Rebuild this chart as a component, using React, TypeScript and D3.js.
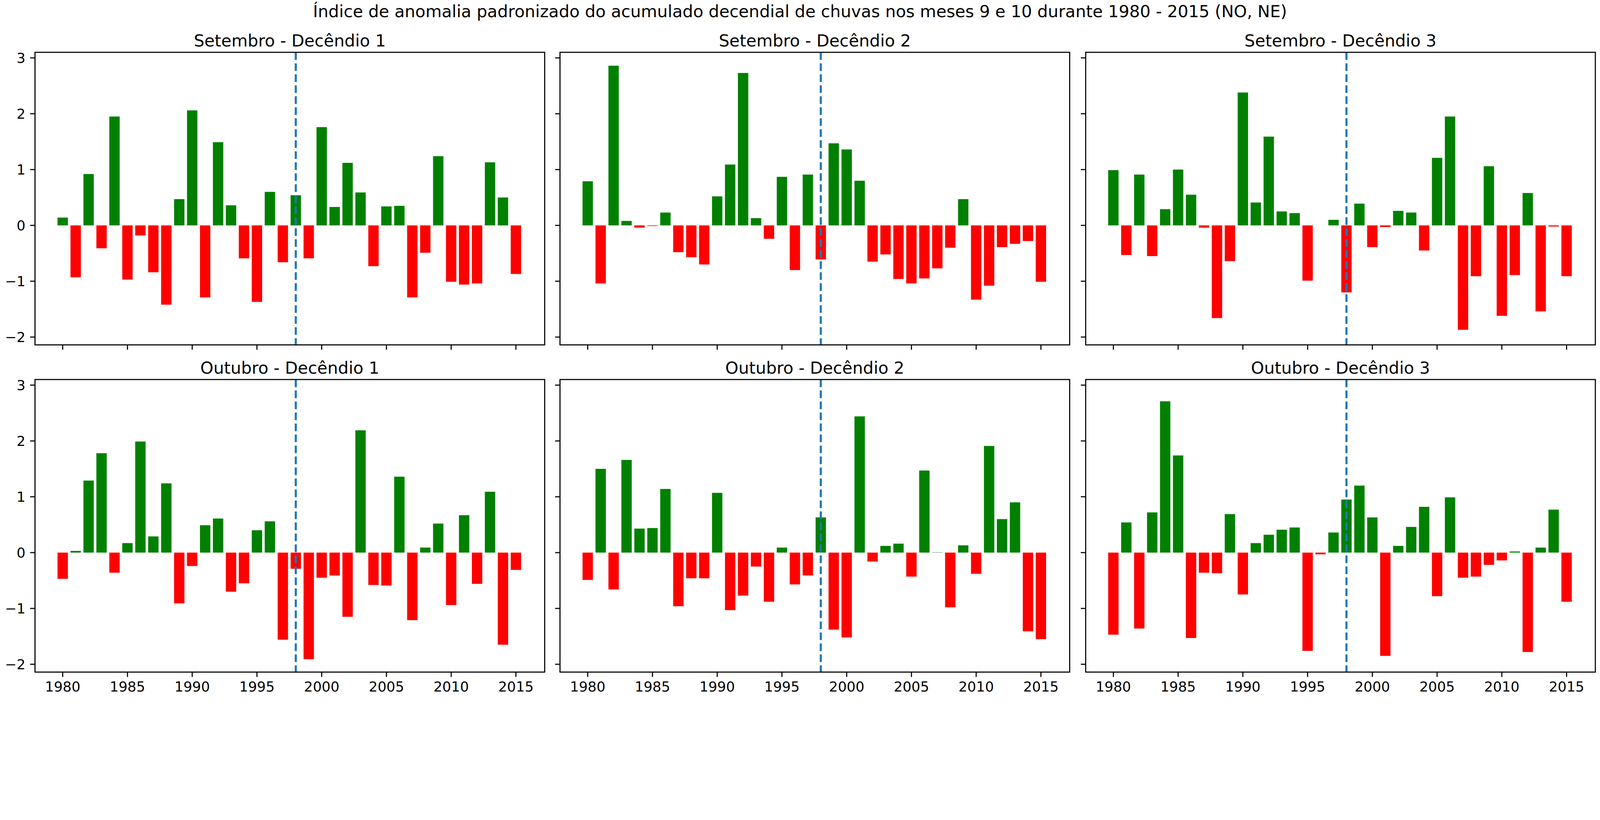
import * as React from "react";
import * as d3 from "d3";

const years: number[] = d3.range(1980, 2016);
const panelTitles: string[] = [
    "Setembro - Decêndio 1", "Setembro - Decêndio 2", "Setembro - Decêndio 3",
    "Outubro - Decêndio 1", "Outubro - Decêndio 2", "Outubro - Decêndio 3",
];
const setD1: number[] = [0.14, -0.93, 0.92, -0.41, 1.95, -0.97, -0.18, -0.84, -1.42, 0.47, 2.06, -1.29, 1.49, 0.36, -0.59, -1.37, 0.60, -0.66,
    0.54, -0.59, 1.76, 0.33, 1.12, 0.59, -0.73, 0.34, 0.35, -1.29, -0.49, 1.24, -1.01, -1.06, -1.04, 1.13, 0.50, -0.87];
const setD2: number[] = [0.79, -1.04, 2.86, 0.08, -0.04, -0.01, 0.23, -0.48, -0.57, -0.70, 0.52, 1.09, 2.73, 0.13, -0.24, 0.87, -0.80, 0.91,
    -0.61, 1.47, 1.36, 0.80, -0.65, -0.52, -0.96, -1.04, -0.95, -0.77, -0.40, 0.47, -1.33, -1.08, -0.39, -0.33, -0.28, -1.01];
const setD3: number[] = [0.99, -0.53, 0.91, -0.55, 0.29, 1.00, 0.55, -0.04, -1.66, -0.64, 2.38, 0.41, 1.59, 0.25, 0.22, -0.99, 0.0, 0.10,
    -1.20, 0.39, -0.39, -0.03, 0.26, 0.23, -0.45, 1.21, 1.95, -1.87, -0.91, 1.06, -1.62, -0.89, 0.58, -1.54, -0.02, -0.91];
const outD1: number[] = [-0.47, 0.03, 1.29, 1.78, -0.36, 0.17, 1.99, 0.29, 1.24, -0.91, -0.24, 0.49, 0.61, -0.70, -0.55, 0.40, 0.56, -1.56,
    -0.29, -1.91, -0.45, -0.41, -1.15, 2.19, -0.58, -0.59, 1.36, -1.21, 0.09, 0.52, -0.94, 0.67, -0.56, 1.09, -1.65, -0.31];
const outD2: number[] = [-0.49, 1.50, -0.66, 1.66, 0.43, 0.44, 1.14, -0.96, -0.46, -0.46, 1.07, -1.03, -0.77, -0.25, -0.88, 0.09, -0.57, -0.41,
    0.63, -1.38, -1.52, 2.44, -0.16, 0.12, 0.16, -0.43, 1.47, 0.005, -0.98, 0.13, -0.38, 1.91, 0.60, 0.90, -1.41, -1.55];
const outD3: number[] = [-1.47, 0.54, -1.36, 0.72, 2.71, 1.74, -1.53, -0.36, -0.37, 0.69, -0.75, 0.17, 0.32, 0.41, 0.45, -1.76, -0.03, 0.36,
    0.95, 1.20, 0.63, -1.85, 0.12, 0.46, 0.82, -0.78, 0.99, -0.45, -0.43, -0.22, -0.14, 0.02, -1.78, 0.09, 0.77, -0.88];
const series: number[][] = [setD1, setD2, setD3, outD1, outD2, outD3];
const xTicks: number[] = [1980, 1985, 1990, 1995, 2000, 2005, 2010, 2015];
const yTicks: number[] = [-2, -1, 0, 1, 2, 3];
const breakYear: number = 1998;

const font: string = "DejaVu Sans";
const colLeft: number[] = [105, 1680, 3257];
const panelW: number = 1529;
const rowTop: number[] = [157, 1139];
const panelH: number = 878;

const Panel = ({ idx }: { idx: number }): JSX.Element => {
    const col: number = idx % 3;
    const row: number = Math.floor(idx / 3);
    const x0: number = colLeft[col];
    const y0: number = rowTop[row];
    const x = d3.scaleLinear().domain([1977.86, 2017.22]).range([0, panelW]);
    const y = d3.scaleLinear().domain([-2.14, 3.1]).range([panelH, 0]);
    const bw: number = x(0.8) - x(0);
    const tick: number = 14.6;
    return <g transform={`translate(${x0},${y0})`}>
        {series[idx].map((v: number, i: number) => (
            <rect key={i} x={x(years[i]) - bw / 2} width={bw}
                y={y(Math.max(v, 0))} height={Math.abs(y(v) - y(0))}
                fill={v >= 0 ? "green" : "red"} />
        ))}
        <line x1={x(breakYear)} x2={x(breakYear)} y1={0} y2={panelH}
            stroke="#1f77b4" strokeWidth={6.25} strokeDasharray="23,10" />
        <rect x={0} y={0} width={panelW} height={panelH} fill="none" stroke="black" strokeWidth={3.3} />
        {xTicks.map((t: number) => (
            <g key={t}>
                <line x1={x(t)} x2={x(t)} y1={panelH} y2={panelH + tick} stroke="black" strokeWidth={3.3} />
                {row === 1 && <text x={x(t)} y={panelH + tick + 44} textAnchor="middle"
                    fontFamily={font} fontSize={41.7}>{t}</text>}
            </g>
        ))}
        {yTicks.map((t: number) => (
            <g key={t}>
                <line x1={-tick} x2={0} y1={y(t)} y2={y(t)} stroke="black" strokeWidth={3.3} />
                {col === 0 && <text x={-tick - 14} y={y(t)} dy="0.35em" textAnchor="end"
                    fontFamily={font} fontSize={41.7}>{t < 0 ? `\u2212${-t}` : t}</text>}
            </g>
        ))}
        <text x={panelW / 2} y={-18} textAnchor="middle" fontFamily={font} fontSize={50}>{panelTitles[idx]}</text>
    </g>;
};

export default function App(): JSX.Element {
    return <svg viewBox="0 0 4800 2100" width="100vw" height="100vh" preserveAspectRatio="xMinYMin meet"
        style={{ position: "absolute", left: 0, top: 0, display: "block", background: "white" }}>
        <rect width={4800} height={2100} fill="white" />
        <text x={2400} y={52} textAnchor="middle" fontFamily={font} fontSize={50}>
            Índice de anomalia padronizado do acumulado decendial de chuvas nos meses 9 e 10 durante 1980 - 2015 (NO, NE)
        </text>
        {series.map((_: number[], i: number) => <Panel key={i} idx={i} />)}
    </svg>;
}
